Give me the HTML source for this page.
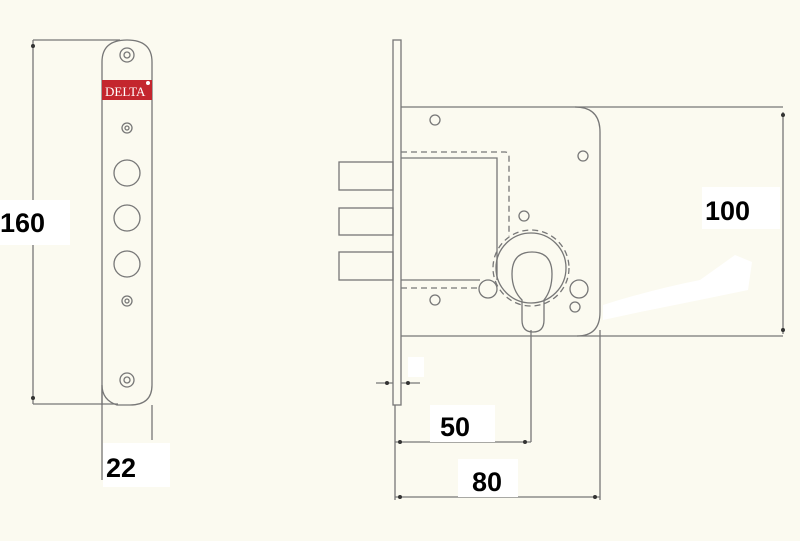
<!DOCTYPE html>
<html><head><style>body{margin:0;background:#fbfaf0}svg{display:block}text{font-family:"Liberation Sans",sans-serif;font-weight:bold;fill:#000}</style></head><body>
<svg width="800" height="541" viewBox="0 0 800 541" xmlns="http://www.w3.org/2000/svg">
<rect width="800" height="541" fill="#fbfaf0"/>
<g stroke="#777" stroke-width="1.3" fill="none">
<path d="M102,405 L102,62 Q102,40 127,40 Q152,40 152,62 L152,385 Q152,405 130,405 L117,405 Q102,400 102,385"/>
<line x1="33" y1="40" x2="120" y2="40"/><line x1="33" y1="404" x2="118" y2="404"/>
<line x1="33" y1="40" x2="33" y2="404"/>
<line x1="102" y1="385" x2="102" y2="480"/><line x1="152" y1="405" x2="152" y2="440"/>
<circle cx="127" cy="55" r="7"/><circle cx="127" cy="55" r="3"/>
<circle cx="127" cy="128" r="5"/><circle cx="127" cy="128" r="2"/>
<circle cx="127" cy="173" r="13"/><circle cx="127" cy="218" r="13"/><circle cx="127" cy="264" r="13"/>
<circle cx="127" cy="301" r="5"/><circle cx="127" cy="301" r="2"/>
<circle cx="127" cy="380" r="7"/><circle cx="127" cy="380" r="3"/>
<rect x="393" y="40" width="8" height="365"/>
<path d="M401,107 L575,107 Q600,107 600,132 L600,312 Q600,336 577,336 L401,336"/>
<line x1="575" y1="107" x2="783" y2="107"/><line x1="577" y1="336" x2="783" y2="336"/>
<line x1="783" y1="112" x2="783" y2="334"/>
<rect x="339" y="162" width="54" height="28"/><rect x="339" y="208" width="54" height="27"/><rect x="339" y="252" width="54" height="28"/>
<path d="M401,158 L497,158 L497,280"/><line x1="401" y1="280" x2="480" y2="280"/>
<path d="M401,152 L505,152 Q509,152 509,157 L509,236" stroke-dasharray="6,4"/>
<line x1="401" y1="288" x2="478" y2="288" stroke-dasharray="6,4"/>
<circle cx="531" cy="268" r="38" stroke-dasharray="6,4"/>
<circle cx="531" cy="268" r="35"/>
<path d="M522,300 L522,320 Q522,332 533,332 Q544,332 544,320 L544,300 Q552,290 552,274 Q552,252 532,252 Q512,252 512,274 Q512,290 522,300Z"/>
<circle cx="435" cy="120" r="5"/><circle cx="583" cy="156" r="5"/><circle cx="524" cy="216" r="5"/>
<circle cx="435" cy="300" r="5"/><circle cx="575" cy="307" r="5"/>
<circle cx="488" cy="289" r="9" fill="#fbfaf0"/><circle cx="579" cy="289" r="9"/>
<line x1="531" y1="330" x2="531" y2="442"/><line x1="600" y1="330" x2="600" y2="500"/>
<line x1="395" y1="405" x2="395" y2="500"/>
<line x1="395" y1="442" x2="531" y2="442"/><line x1="395" y1="497" x2="600" y2="497"/>
<line x1="376" y1="383" x2="393" y2="383"/><line x1="401" y1="383" x2="420" y2="383"/>
</g>
<g fill="#333"><circle cx="33" cy="46" r="2"/><circle cx="33" cy="398" r="2"/><circle cx="783" cy="115" r="2"/><circle cx="783" cy="330" r="2"/>
<circle cx="400" cy="442" r="2"/><circle cx="525" cy="442" r="2"/><circle cx="400" cy="497" r="2"/><circle cx="595" cy="497" r="2"/><circle cx="387" cy="383" r="2"/><circle cx="408" cy="383" r="2"/></g>
<rect x="102" y="80" width="50" height="20" fill="#c4262e"/>
<text x="105" y="96" font-size="13" style="fill:#fff;font-weight:normal;font-family:'Liberation Serif',serif">DELTA</text>
<circle cx="148" cy="83" r="2" fill="#fff"/>
<path d="M603,305 Q650,290 700,280 L735,255 L752,262 L748,290 Q700,300 640,312 L603,320Z" fill="#fff"/>
<rect x="408" y="357" width="16" height="20" fill="#fff"/>
<rect x="0" y="200" width="70" height="45" fill="#fff"/><text x="0" y="232" font-size="27">160</text>
<rect x="103" y="443" width="67" height="44" fill="#fff"/><text x="106" y="477" font-size="27">22</text>
<rect x="702" y="187" width="78" height="42" fill="#fff"/><text x="705" y="220" font-size="27">100</text>
<rect x="430" y="405" width="65" height="37" fill="#fff"/><text x="440" y="436" font-size="27">50</text>
<rect x="458" y="459" width="60" height="38" fill="#fff"/><text x="472" y="491" font-size="27">80</text>
</svg>
</body></html>
